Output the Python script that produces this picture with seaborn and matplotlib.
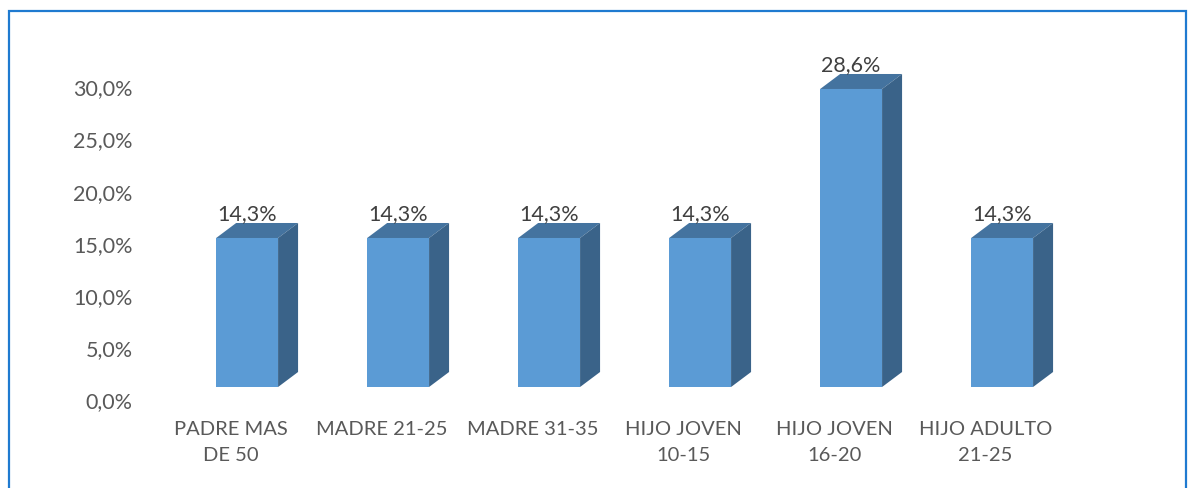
import matplotlib
matplotlib.use("Agg")
import matplotlib.pyplot as plt
import matplotlib.transforms as mtransforms
from matplotlib.patches import Polygon, Rectangle
import seaborn as sns
import pandas as pd

categories = ["PADRE MAS\nDE 50", "MADRE 21-25", "MADRE 31-35",
              "HIJO JOVEN\n10-15", "HIJO JOVEN\n16-20", "HIJO ADULTO\n21-25"]
values = [14.3, 14.3, 14.3, 14.3, 28.6, 14.3]
value_labels = ["14,3%", "14,3%", "14,3%", "14,3%", "28,6%", "14,3%"]
yticks = [0, 5, 10, 15, 20, 25, 30]
ytick_labels = ["0,0%", "5,0%", "10,0%", "15,0%", "20,0%", "25,0%", "30,0%"]

FRONT = "#5b9bd5"
TOP = "#44739f"
SIDE = "#3a6389"
TEXT = "#595959"
FONT = "Lato"

sns.set_style("white")
plt.rcParams["font.family"] = [FONT, "DejaVu Sans"]

W, H, DPI = 1189, 488, 100
fig = plt.figure(figsize=(W / DPI, H / DPI), dpi=DPI)
left_px, right_px, top_px, bottom_px = 155, 1061, 40, 410
ax = fig.add_axes([left_px / W, 1 - bottom_px / H,
                   (right_px - left_px) / W, (bottom_px - top_px) / H])

df = pd.DataFrame({"cat": categories, "val": values})
sns.barplot(data=df, x="cat", y="val", color=FRONT, width=0.41,
            saturation=1, ax=ax, zorder=3)

px_per_unit_y = 10.42
ymin = -(bottom_px - 387) / px_per_unit_y
ymax = ymin + (bottom_px - top_px) / px_per_unit_y
ax.set_xlim(-0.5, 5.5)
ax.set_ylim(ymin, ymax)

x_shift = 0.11
dx = 20 / 151.0
dy = 15 / px_per_unit_y
for i, p in enumerate(ax.patches):
    p.set_x(p.get_x() + x_shift)
    p.set_edgecolor("none")
    x0 = p.get_x()
    w = p.get_width()
    h = p.get_height()
    top = Polygon([(x0, h), (x0 + w, h), (x0 + w + dx, h + dy), (x0 + dx, h + dy)],
                  closed=True, facecolor=TOP, edgecolor="none", zorder=3)
    side = Polygon([(x0 + w, 0), (x0 + w + dx, dy), (x0 + w + dx, h + dy), (x0 + w, h)],
                   closed=True, facecolor=SIDE, edgecolor="none", zorder=3)
    ax.add_patch(top)
    ax.add_patch(side)
    ax.text(x0 + w / 2 + 0.0, h + dy - 0.1, value_labels[i], ha="center", va="bottom",
            fontsize=15.5, color="#404040", zorder=4)

ax.set_yticks(yticks)
ax.set_yticklabels(ytick_labels)
ax.set_xlabel("")
ax.set_ylabel("")
ax.tick_params(axis="y", length=0, pad=16, labelsize=15.5, labelcolor=TEXT)
ax.tick_params(axis="x", length=0, pad=8, labelsize=14.5, labelcolor=TEXT)
off = mtransforms.ScaledTranslation(0, -13 / DPI, fig.dpi_scale_trans)
for lab in ax.get_yticklabels():
    lab.set_transform(lab.get_transform() + off)
for lab in ax.get_xticklabels():
    lab.set_linespacing(1.65)
for s in ax.spines.values():
    s.set_visible(False)
ax.grid(False)

fig.patches.append(Rectangle((9 / W, -0.05), (1186 - 9) / W, 1.05 - 11 / H,
                             transform=fig.transFigure, fill=False,
                             edgecolor="#1f7ad0", linewidth=1.6))

fig.savefig("out.png", dpi=DPI)
